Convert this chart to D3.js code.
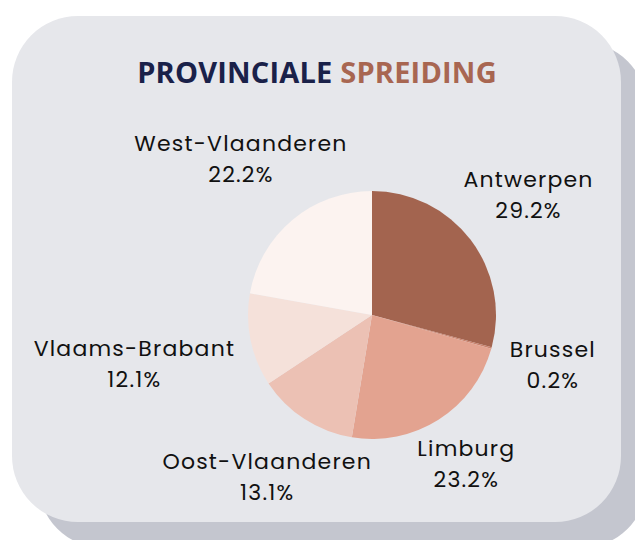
<!DOCTYPE html>
<html>
<head>
<meta charset="utf-8">
<script src="https://cdn.jsdelivr.net/npm/d3@7"></script>
<style>
  html, body { margin: 0; padding: 0; background: #ffffff; }
  svg { display: block; }
</style>
</head>
<body>
<svg id="chart" width="635" height="540"></svg>
<script>
const categories = ["Antwerpen", "Brussel", "Limburg", "Oost-Vlaanderen", "Vlaams-Brabant", "West-Vlaanderen"];
const shares = [29.2, 0.2, 23.2, 13.1, 12.1, 22.2];
const sliceColors = ["#a3644f", "#c9826c", "#e3a390", "#ecc1b4", "#f5e1da", "#fcf3f0"];
const titleParts = ["PROVINCIALE ", "SPREIDING"];
const titleColors = ["#1a2149", "#a86651"];

const svg = d3.select("#chart");

// card shadow + card
const card = {x: 12, y: 16, w: 609, h: 506, r: 66};
svg.append("rect")
  .attr("x", card.x + 26).attr("y", card.y + 26)
  .attr("width", card.w).attr("height", card.h)
  .attr("rx", card.r).attr("ry", card.r)
  .attr("fill", "#c4c6cf");
svg.append("rect")
  .attr("x", card.x).attr("y", card.y)
  .attr("width", card.w).attr("height", card.h)
  .attr("rx", card.r).attr("ry", card.r)
  .attr("fill", "#e6e7eb");

// title
const title = svg.append("text")
  .attr("x", 317).attr("y", 83)
  .attr("text-anchor", "middle")
  .style("font-family", "'Open Sans', sans-serif")
  .style("font-weight", 700)
  .style("font-size", "29px")
  .style("letter-spacing", "0.2px");
titleParts.forEach((t, i) => title.append("tspan").attr("fill", titleColors[i]).text(t));

// pie
const cx = 372, cy = 315, R = 124;
const pie = d3.pie().sort(null).value(d => d)(shares);
const arc = d3.arc().innerRadius(0).outerRadius(R);
const g = svg.append("g").attr("transform", `translate(${cx},${cy})`);
g.selectAll("path").data(pie).join("path")
  .attr("d", arc)
  .attr("fill", (d, i) => sliceColors[i]);

// labels
const fmt = v => d3.format(".1f")(v) + "%";
const lg = g.append("g")
  .style("font-family", "Poppins, 'Noto Sans', 'Open Sans', sans-serif")
  .style("font-size", "22px")
  .style("letter-spacing", "1.2px")
  .attr("fill", "#111111");
const lineGap = 31;
pie.forEach((d, i) => {
  const t = lg.append("text").attr("text-anchor", "middle");
  t.append("tspan").attr("x", 0).attr("dy", 0).text(categories[i]);
  t.append("tspan").attr("x", 0).attr("dy", lineGap).text(fmt(shares[i]));
  const bb = t.node().getBBox();
  const a = (d.startAngle + d.endAngle) / 2;
  const s = Math.sin(a), c = -Math.cos(a);
  const r = 141 + s * s * bb.width / 2 + Math.abs(c) * bb.height / 2 * 0.8;
  const px = s * r, py = c * r;
  const dy = py - (bb.y + bb.height / 2);
  t.attr("transform", `translate(${px},${dy})`);
});
</script>
</body>
</html>
